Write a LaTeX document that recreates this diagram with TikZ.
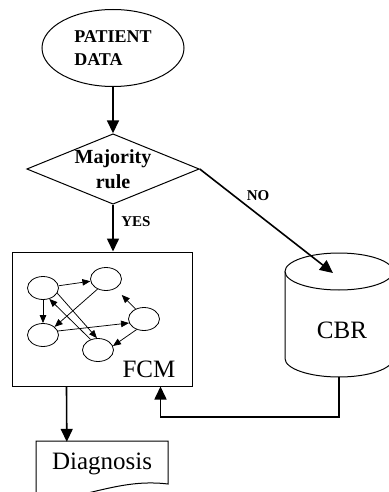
\documentclass[tikz,border=0pt]{standalone}
\usepackage{fontspec}
\setmainfont{Liberation Serif}
\usetikzlibrary{shapes.geometric,arrows.meta}

\begin{document}
\begin{tikzpicture}[x=1pt,y=-1pt,
  bigarrow/.style={line width=1.6pt,-{Triangle[length=13pt,width=12pt]}},
  netarrow/.style={line width=0.75pt,-{Triangle[length=8pt,width=6.5pt]}},
  cell/.style={ellipse,draw,line width=0.8pt,minimum width=31pt,minimum height=23pt,inner sep=0pt},
  frame/.style={draw,line width=1pt},
  big/.style={font=\fontsize{25}{30}\selectfont},
  tag/.style={font=\bfseries\fontsize{15}{18}\selectfont}]
\useasboundingbox (0,0) rectangle (388,492);

\node[ellipse,frame,minimum width=142pt,minimum height=77pt,inner sep=0pt,align=left,
  font=\bfseries\fontsize{18}{23}\selectfont] (data) at (113,48) {PATIENT\\DATA};
\node[diamond,frame,aspect=2.45,inner sep=0pt,align=center,
  font=\bfseries\fontsize{20}{25}\selectfont] (rule) at (113,169) {Majority\\rule};
\node[frame,minimum width=180pt,minimum height=134pt] (fcm) at (102,319) {};
\node[big] (fcmlabel) at (149,369) {FCM};

% the fuzzy cognitive map inside the box
\foreach \name/\x/\y in {c1/43/288, c2/106/279, c3/43/335, c4/144/319, c5/98/350}
  \node[cell] (\name) at (\x,\y) {};
\foreach \a/\b in {c1/c2, c1/c3, c2.230/c3.35, c1.-20/c5.95, c5.125/c1.-60, c3.15/c4.195, c4.235/c5.15}
  \draw[netarrow] (\a) -- (\b);
\draw[netarrow, shorten >=9pt] (c4.130) -- (c2);

% case base
\draw[line width=1pt] (339,271.5) ellipse [x radius=54, y radius=18.5];
\draw[line width=1pt] (285,271.5) -- (285,358.5)
  arc[start angle=180, end angle=0, x radius=54, y radius=18.5] -- (393,271.5);
\node[big] (cbr) at (342,330) {CBR};
\coordinate (cbrin) at (333,273);
\coordinate (cbrout) at (339,377);

\node[minimum width=132pt,minimum height=44pt,inner sep=0pt,big] (diag) at (102,464) {Diagnosis};
\draw[line width=1pt] (36,441) -- (168,441) -- (168,484)
  .. controls (135,480) and (110,488) .. (75,496)
  .. controls (58,500) and (45,499) .. (36,497) -- cycle;

\draw[bigarrow] (data) -- (rule);
\draw[bigarrow] (rule.south) -- (rule.south |- fcm.north);
\node[tag] (yes) at (136,222) {YES};
\draw[bigarrow] (rule.east) -- (cbrin);
\node[tag] (no) at (258,196) {NO};
\draw[bigarrow] (cbrout) -- ++(0,40) -| ([xshift=-32pt]fcm.south east);
\draw[bigarrow] ([xshift=55pt]fcm.south west) -- ([xshift=31pt]diag.north west);
\end{tikzpicture}
\end{document}
